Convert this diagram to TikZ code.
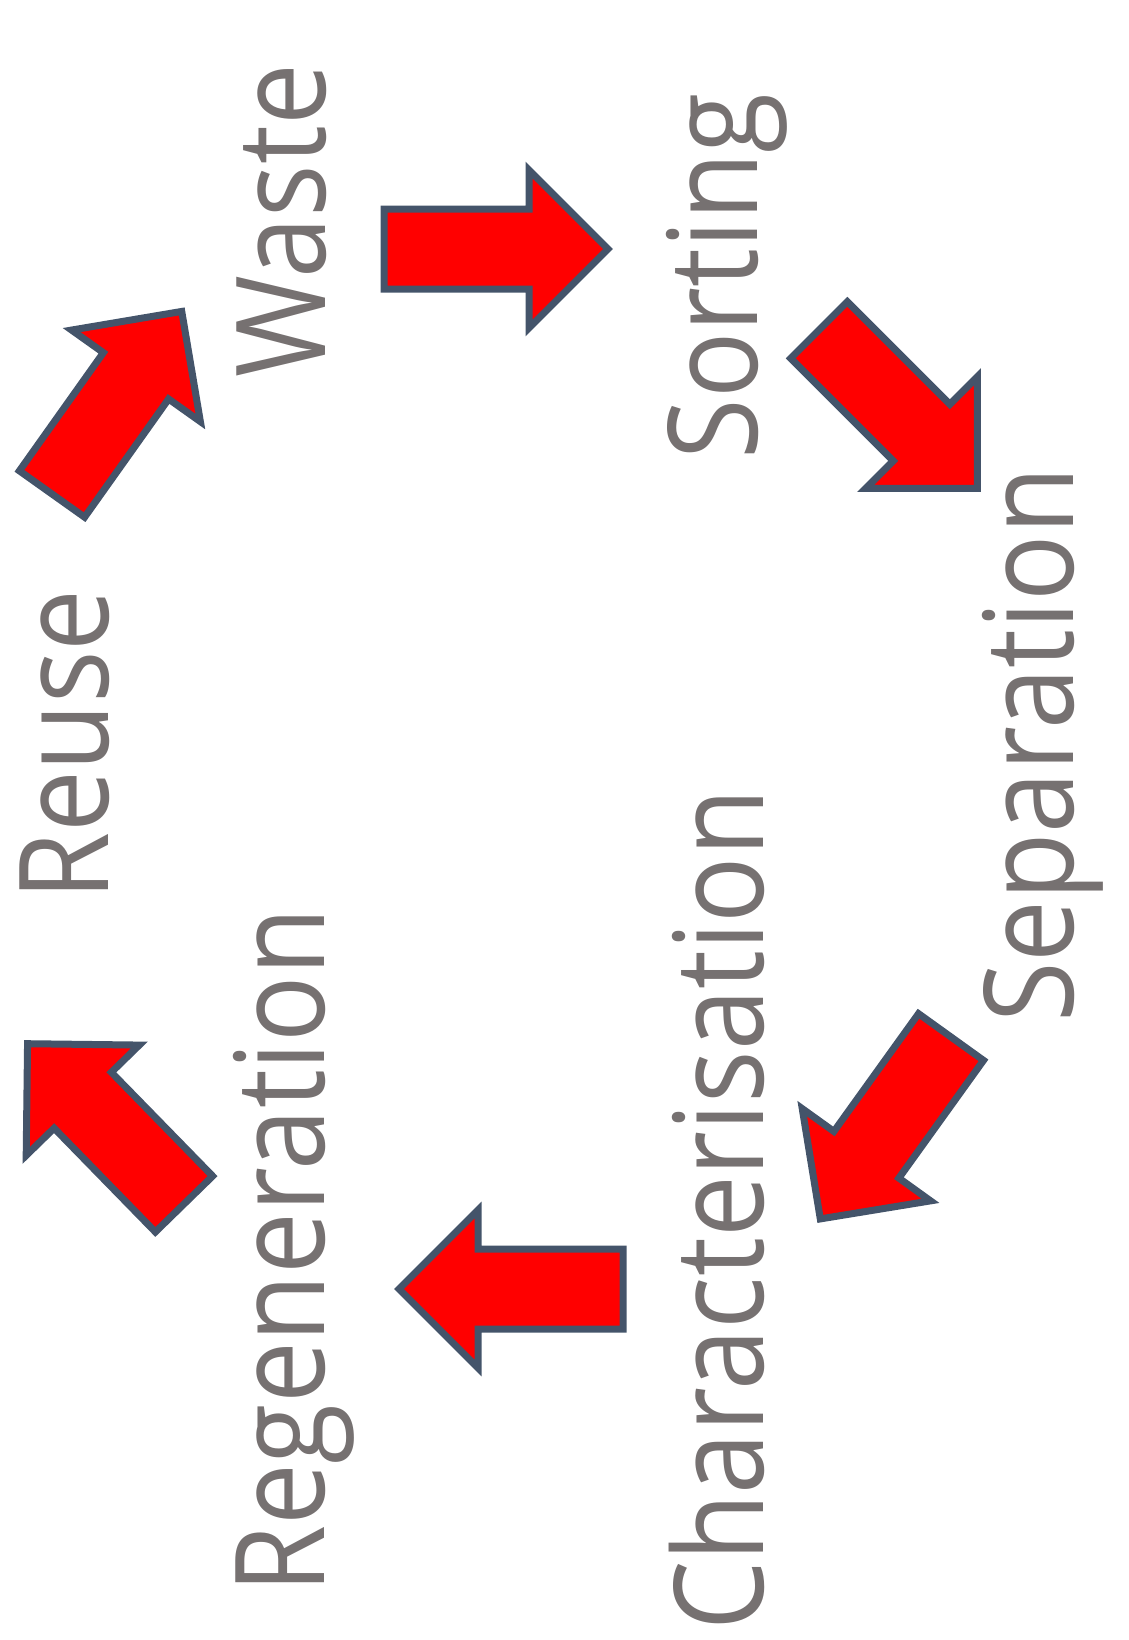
\documentclass[tikz,border=0pt]{standalone}
\usepackage{fontspec}
\setmainfont{Open Sans}
\usetikzlibrary{shapes.arrows}
\definecolor{arrowRed}{HTML}{FF0000}
\definecolor{arrowBorder}{HTML}{44546A}
\definecolor{labelGray}{HTML}{767171}
\newcommand{\tallText}[1]{\scalebox{1}[1.13]{#1}}

\begin{document}
\begin{tikzpicture}[x = 0.5pt, y = -0.5pt, font=\fontsize{55pt}{60pt}\selectfont]
	\tikzstyle{stepLabel} = [text = labelGray, rotate = 90, anchor = base, inner sep = 0pt]
	\tikzstyle{flowArrow} = [single arrow, draw = arrowBorder, fill = arrowRed, line width = 3.5pt, minimum height = 112pt, single arrow head extend = 19.5pt, single arrow head indent = 0pt, inner xsep = 0pt, inner ysep = 18.25pt, outer sep = 0pt, anchor = tail]
	\useasboundingbox (0,0) rectangle (1129,1640);
	\node[stepLabel] (waste) at (325,221) {\tallText{Waste}};
	\node[stepLabel] (sorting) at (757,276) {\tallText{Sorting}};
	\node[stepLabel] (separation) at (1073,745) {\tallText{Separation}};
	\node[stepLabel] (characterisation) at (763,1210) {\tallText{Characterisation}};
	\node[stepLabel] (regeneration) at (324,1251) {\tallText{Regeneration}};
	\node[stepLabel] (reuse) at (108,745) {\tallText{Reuse}};
	\node[flowArrow, rotate = 0] (a1) at (384,249) {};
	\node[flowArrow, rotate = -45] (a2) at (819,330) {};
	\node[flowArrow, rotate = -125.7] (a3) at (951,1037) {};
	\node[flowArrow, rotate = 180] (a4) at (623,1289) {};
	\node[flowArrow, rotate = 134.3] (a5) at (184,1204) {};
	\node[flowArrow, rotate = 54.6] (a6) at (52,494) {};
\end{tikzpicture}
\end{document}
